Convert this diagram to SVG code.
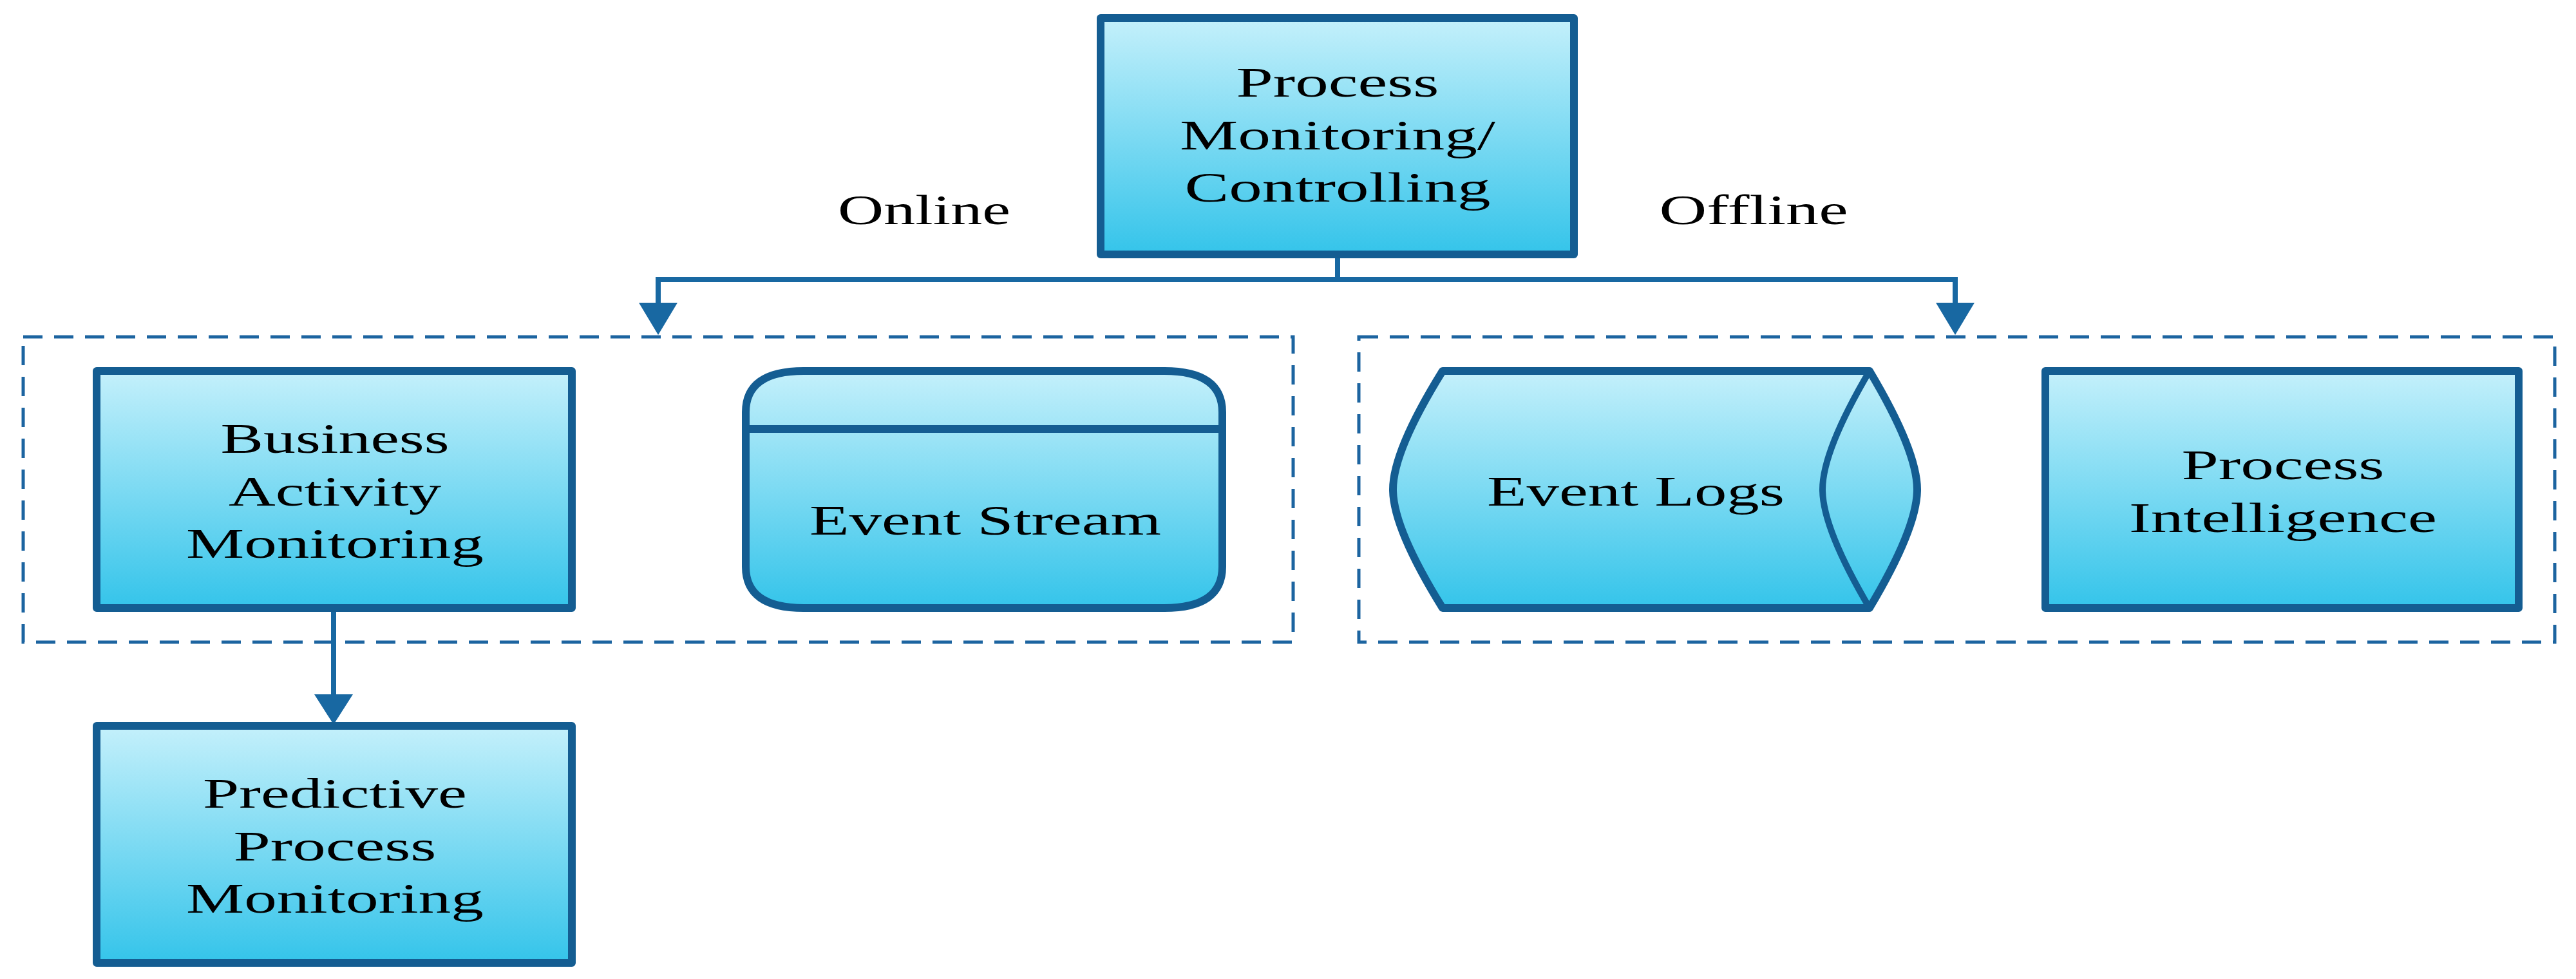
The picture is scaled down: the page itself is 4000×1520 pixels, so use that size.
<svg xmlns="http://www.w3.org/2000/svg" width="4000" height="1520" viewBox="0 0 4000 1520">
<defs>
<linearGradient id="g" x1="0" y1="0" x2="0" y2="1"><stop offset="0" stop-color="#c4f0fb"/><stop offset="1" stop-color="#34c4ea"/></linearGradient>
<marker id="ah" viewBox="0 0 10 10" refX="10" refY="5" markerWidth="10" markerHeight="10" markerUnits="userSpaceOnUse" orient="auto"><path d="M0,0 L10,5 L0,10 z" fill="#1868a2"/></marker>
<style>
.n{fill:url(#g);stroke:#145d92;stroke-width:12;stroke-linejoin:round}
.t{font-family:"Liberation Serif",serif;font-size:66px;fill:#000;text-anchor:middle}
.d{fill:none;stroke:#1c64a0;stroke-width:5;stroke-dasharray:30,18}
.c{fill:none;stroke:#1868a2;stroke-width:8}
</style>
</defs>
<g id="groups">
<rect class="d" x="36" y="523" width="1972" height="474"/>
<rect class="d" x="2110" y="523" width="1857" height="474"/>
</g>
<g id="connectors">
<path class="c" d="M2077,400 V434 H1022 V470"/>
<path d="M992,470 L1052,470 L1022,520 z" fill="#1868a2"/>
<path class="c" d="M2077,434 H3036 V470"/>
<path d="M3006,470 L3066,470 L3036,520 z" fill="#1868a2"/>
<path class="c" d="M518,944 V1080"/>
<path d="M488,1078 L548,1078 L518,1125 z" fill="#1868a2"/>
</g>
<g id="n-top">
<rect class="n" x="1709" y="28" width="735" height="367"/>
<text class="t" x="2077" y="150" textLength="315" lengthAdjust="spacingAndGlyphs">Process</text>
<text class="t" x="2077" y="232" textLength="490" lengthAdjust="spacingAndGlyphs">Monitoring/</text>
<text class="t" x="2077" y="313" textLength="475" lengthAdjust="spacingAndGlyphs">Controlling</text>
</g>
<text class="t" x="1435" y="348" textLength="268" lengthAdjust="spacingAndGlyphs">Online</text>
<text class="t" x="2723" y="348" textLength="293" lengthAdjust="spacingAndGlyphs">Offline</text>
<g id="n-bam">
<rect class="n" x="150" y="576" width="738" height="368"/>
<text class="t" x="520" y="703" textLength="355" lengthAdjust="spacingAndGlyphs">Business</text>
<text class="t" x="520" y="785" textLength="330" lengthAdjust="spacingAndGlyphs">Activity</text>
<text class="t" x="520" y="866" textLength="462" lengthAdjust="spacingAndGlyphs">Monitoring</text>
</g>
<g id="n-stream">
<path class="n" d="M1248,576 H1808 Q1898,576 1898,640 V880 Q1898,944 1808,944 H1248 Q1158,944 1158,880 V640 Q1158,576 1248,576 Z"/>
<line x1="1158" y1="666" x2="1898" y2="666" stroke="#145d92" stroke-width="12"/>
<text class="t" x="1530" y="830" textLength="546" lengthAdjust="spacingAndGlyphs">Event Stream</text>
</g>
<g id="n-logs">
<path class="n" d="M2240,576 H2903 Q2977,700 2977,760 Q2977,820 2903,944 H2240 Q2163,820 2163,760 Q2163,700 2240,576 Z"/>
<path d="M2903,576 Q2830,700 2830,760 Q2830,820 2903,944" fill="none" stroke="#145d92" stroke-width="10"/>
<text class="t" x="2540" y="785" textLength="462" lengthAdjust="spacingAndGlyphs">Event Logs</text>
</g>
<g id="n-pi">
<rect class="n" x="3176" y="576" width="735" height="368"/>
<text class="t" x="3545" y="744" textLength="315" lengthAdjust="spacingAndGlyphs">Process</text>
<text class="t" x="3545" y="826" textLength="478" lengthAdjust="spacingAndGlyphs">Intelligence</text>
</g>
<g id="n-ppm">
<rect class="n" x="150" y="1127" width="738" height="368"/>
<text class="t" x="520" y="1254" textLength="410" lengthAdjust="spacingAndGlyphs">Predictive</text>
<text class="t" x="520" y="1336" textLength="315" lengthAdjust="spacingAndGlyphs">Process</text>
<text class="t" x="520" y="1417" textLength="462" lengthAdjust="spacingAndGlyphs">Monitoring</text>
</g>
</svg>
